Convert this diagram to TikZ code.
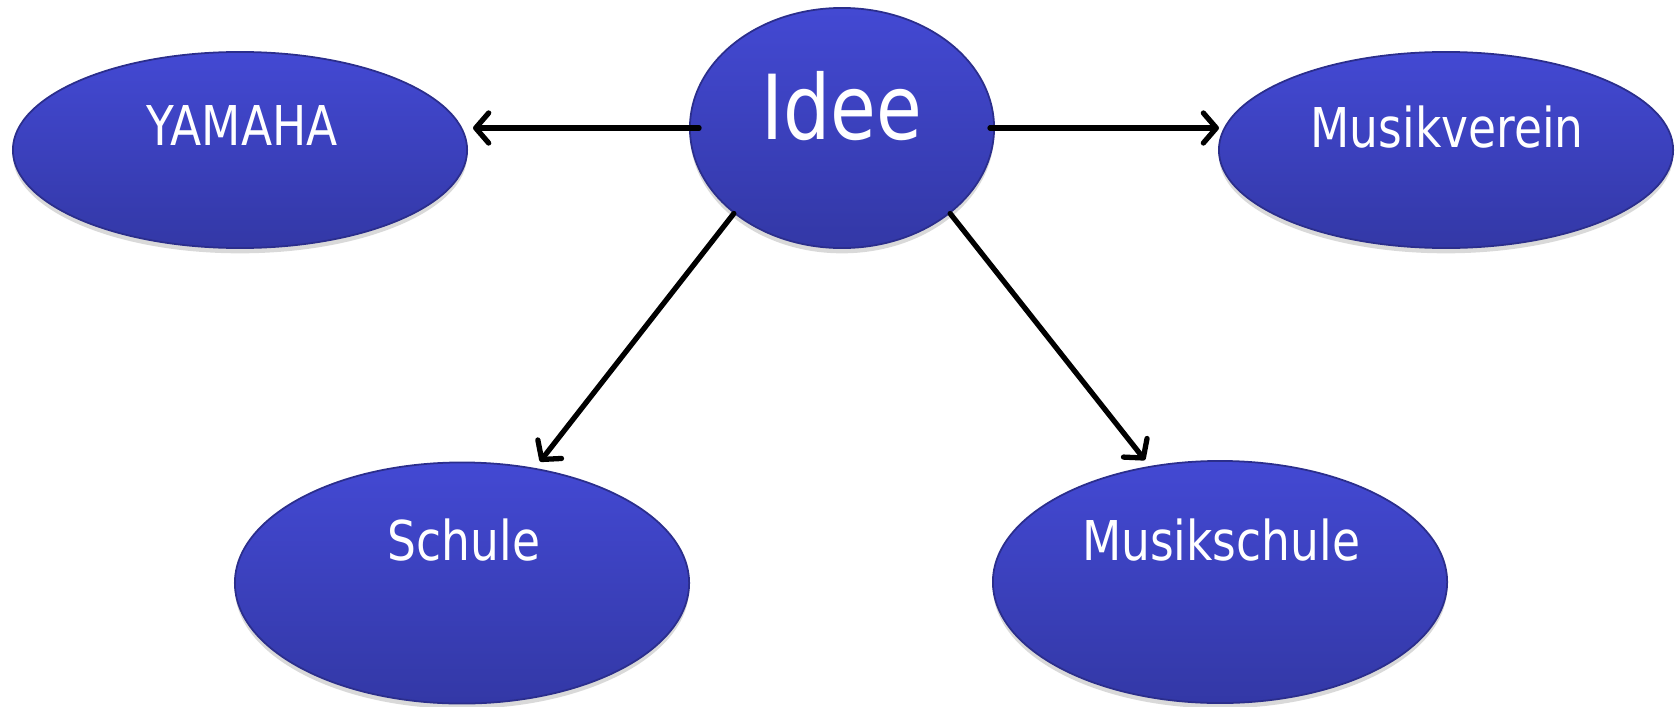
\documentclass[tikz,border=0pt]{standalone}
\usepackage{fontspec}
\setmainfont{DejaVu Sans}[FakeStretch=0.83]
\usetikzlibrary{shapes.geometric,arrows.meta,shadows}
\definecolor{btop}{HTML}{4349D3}
\definecolor{bbot}{HTML}{3338A6}
\definecolor{bline}{HTML}{2B2E8C}
\begin{document}
\begin{tikzpicture}[x=0.01cm,y=-0.01cm,
  blob/.style={ellipse, inner sep=0, draw=bline, line width=0.5pt,
    top color=btop, bottom color=bbot,
    drop shadow={shadow xshift=0pt, shadow yshift=-1.5pt, opacity=0.15, fill=black}},
  lbl/.style={text=white, font=\fontsize{15.6}{18}\selectfont, inner sep=0, anchor=base},
  arr/.style={draw=black, line width=1.5pt, line cap=round, line join=round,
    -{Straight Barb[length=0.13cm,width=0.3cm,line join=round,line cap=round]}}]
\useasboundingbox (0,0) rectangle (1679,706);
\node[blob, minimum width=4.54cm, minimum height=1.96cm] (yam) at (240,150) {};
\node[blob, minimum width=3.04cm, minimum height=2.40cm] (idee) at (842,128) {};
\node[blob, minimum width=4.54cm, minimum height=1.96cm] (mv) at (1446,150) {};
\node[blob, minimum width=4.54cm, minimum height=2.41cm] (sch) at (462,583) {};
\node[blob, minimum width=4.54cm, minimum height=2.42cm] (ms) at (1220,582) {};
\node[lbl] (tyam) at (242,145) {YAMAHA};
\node[lbl, font=\fontsize{25.5}{29}\selectfont] (tidee) at (842,139) {Idee};
\node[lbl] (tmv) at (1447,147) {Musikverein};
\node[lbl] (tsch) at (464,560) {Schule};
\node[lbl] (tms) at (1221,560) {Musikschule};
\coordinate (yt) at (idee.west -| yam.east);
\coordinate (mt) at (idee.east -| mv.west);
\draw[arr] ([xshift=0.1cm]idee.west) -- ([xshift=0.05cm]yt);
\draw[arr] ([xshift=-0.05cm]idee.east) -- ([xshift=0.01cm]mt);
\draw[arr] (idee.south west) -- ([xshift=0.78cm]sch.north);
\draw[arr] (idee.south east) -- ([xshift=-0.75cm]ms.north);
\end{tikzpicture}
\end{document}
